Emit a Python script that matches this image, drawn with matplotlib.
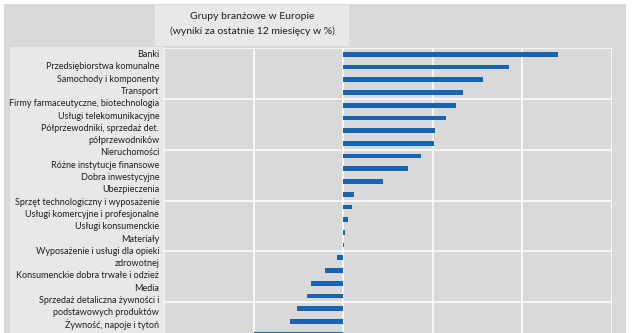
import matplotlib.pyplot as plt
from matplotlib.patches import Rectangle

# Etykiety tak, jak widać je na wykresie (dłuższe nazwy zawinięte na dwie linie)
etykiety = [
    "Banki",
    "Przedsiębiorstwa komunalne",
    "Samochody i komponenty",
    "Transport",
    "Firmy farmaceutyczne, biotechnologia",
    "Usługi telekomunikacyjne",
    "Półprzewodniki, sprzedaż det.",
    "półprzewodników",
    "Nieruchomości",
    "Różne instytucje finansowe",
    "Dobra inwestycyjne",
    "Ubezpieczenia",
    "Sprzęt technologiczny i wyposażenie",
    "Usługi komercyjne i profesjonalne",
    "Usługi konsumenckie",
    "Materiały",
    "Wyposażenie i usługi dla opieki",
    "zdrowotnej",
    "Konsumenckie dobra trwałe i odzież",
    "Media",
    "Sprzedaż detaliczna żywności i",
    "podstawowych produktów",
    "Żywność, napoje i tytoń",
]

# Wyniki za 12 miesięcy w %
wyniki = [24.0, 18.6, 15.6, 13.4, 12.6, 11.5, 10.3, 10.2, 8.7, 7.3, 4.5,
          1.2, 1.0, 0.55, 0.2, 0.08, -0.7, -2.05, -3.6, -4.0, -5.1, -5.9, -10.0]

tytul = "Grupy branżowe w Europie\n(wyniki za ostatnie 12 miesięcy w %)"

W, H = 632, 333
szary = "#d9d9d9"
jasny = "#e8e8e8"
niebieski = "#1763b4"

plt.rcParams["font.family"] = ["Lato", "DejaVu Sans"]


def fx(x):
    return x / W


def fy(y):
    return 1 - y / H


fig = plt.figure(figsize=(W / 100, H / 100), dpi=100, facecolor="white")

# tło: szara ramka, pole tytułu i panel etykiet
fig.add_artist(Rectangle((fx(4), 0), fx(622), fy(4), transform=fig.transFigure,
                         facecolor=szary, edgecolor="none", zorder=-3))
fig.add_artist(Rectangle((fx(155), fy(46)), fx(194), 41 / H, transform=fig.transFigure,
                         facecolor=jasny, edgecolor="none", zorder=-2))
fig.add_artist(Rectangle((fx(10), 0), fx(155), fy(47), transform=fig.transFigure,
                         facecolor=jasny, edgecolor="none", zorder=-2))

fig.text(fx(252), fy(24), tytul, ha="center", va="center", fontsize=7.5,
         linespacing=1.7, color="#1e1e1e")

# wykres słupkowy
ax = fig.add_axes([fx(164), 0, (611.5 - 164) / W, fy(48)])
ax.set_facecolor(szary)
pozycje = list(range(len(wyniki)))
ax.barh(pozycje, wyniki, height=0.37, color=niebieski, zorder=3)
ax.set_xlim(-20, 30)
ax.set_ylim(21.92, -0.5)
ax.set_xticks([-20, -10, 0, 10, 20, 30])
ax.set_yticks([-0.5, 3.5, 7.5, 11.5, 15.5, 19.5])
ax.grid(True, color="white", linewidth=1.1, zorder=0)
for s in ax.spines.values():
    s.set_visible(False)

# etykiety kategorii po lewej (własna skala, bo odstęp linii jest inny niż słupków)
ax2 = ax.twinx()
ax2.yaxis.tick_left()
ax2.set_ylim(22.73, -0.46)
ax2.set_yticks(range(len(etykiety)))
ax2.set_yticklabels(etykiety, fontsize=6.5, color="#1e1e1e")
ax2.tick_params(length=0, pad=3.5, right=False, labelright=False)
for s in ax2.spines.values():
    s.set_visible(False)

ax.tick_params(left=False, right=False, bottom=False,
               labelleft=False, labelright=False, labelbottom=False)

fig.savefig("out.png", dpi=100, facecolor="white")
